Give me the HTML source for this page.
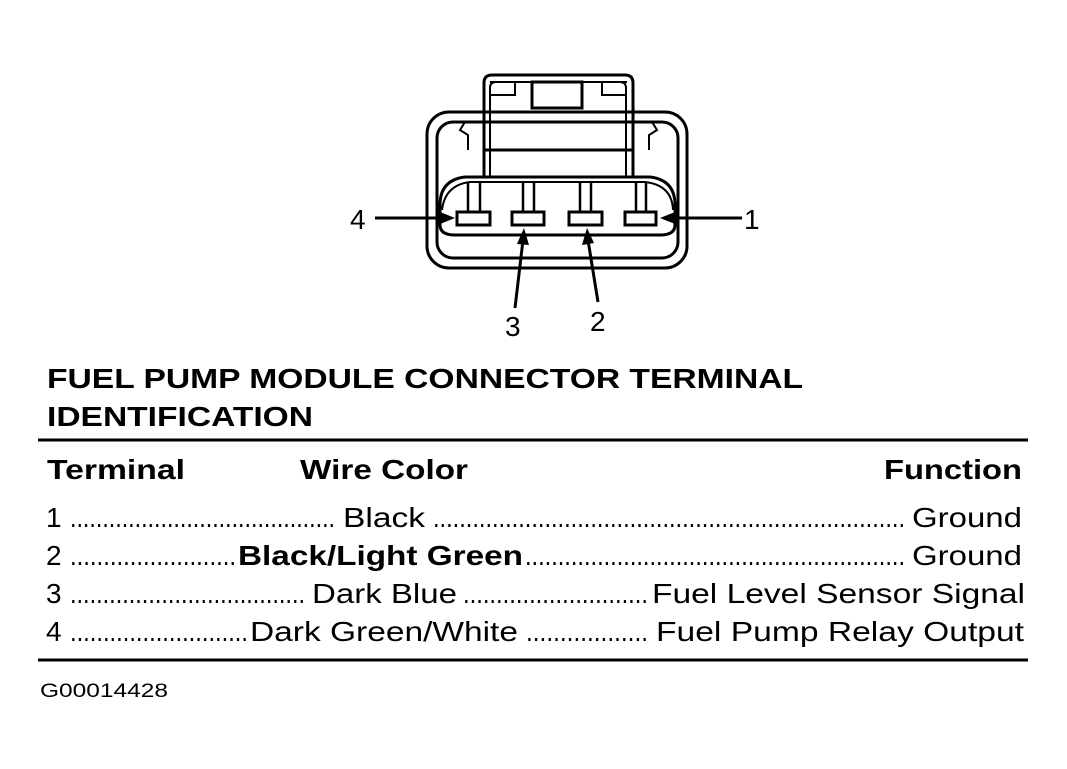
<!DOCTYPE html>
<html><head><style>html,body{margin:0;padding:0;background:#fff}svg{display:block}</style></head>
<body>
<svg width="1067" height="769" viewBox="0 0 1067 769" xmlns="http://www.w3.org/2000/svg" font-family="Liberation Sans, Arial, sans-serif">
<g fill="none" stroke="#000" stroke-width="3">
  <rect x="427" y="112" width="260" height="156" rx="22"/>
  <rect x="437" y="122" width="241" height="136" rx="16"/>
  <path d="M484 177 V83 q0-8 8-8 H625 q8 0 8 8 V177"/>
  <path d="M490 177 V88 q0-6 6-6 H620 q6 0 6 6 V177" stroke-width="2"/>
  <rect x="532" y="82" width="50" height="26"/>
  <path d="M490 82 H515 V95 H490 M627 82 H602 V95 H627" stroke-width="2"/>
  <rect x="484" y="122" width="149" height="28"/>
  <path d="M484 122 H465 l-5 8 l8 5 V150 M633 122 H652 l5 8 l-8 5 V150" stroke-width="2"/>
  <path d="M440 205 Q440 180 465 177 H650 Q675 180 675 205 V225 Q675 235 660 235 H455 Q440 235 440 225 Z"/>
  <path d="M442 210 Q445 185 470 182 H645 Q672 185 673 210" stroke-width="2"/>
  <rect x="457" y="212" width="33" height="13"/>
  <rect x="512" y="212" width="32" height="13"/>
  <rect x="569" y="212" width="33" height="13"/>
  <rect x="625" y="212" width="31" height="13"/>
  <path d="M468 183 V212 M480 183 V212 M523 183 V212 M534 183 V212 M580 183 V212 M591 183 V212 M636 183 V212 M646 183 V212" stroke-width="2.5"/>
  <line x1="375" y1="218" x2="445" y2="218"/>
  <line x1="672" y1="218" x2="742" y2="218"/>
  <line x1="515" y1="308" x2="523" y2="240"/>
  <line x1="598" y1="302" x2="588" y2="240"/>
  <line x1="38" y1="440" x2="1028" y2="440"/>
  <line x1="38" y1="660" x2="1028" y2="660"/>
</g>
<g fill="#000">
  <polygon points="455,218 440,212 440,224"/>
  <polygon points="660,218 675,212 675,224"/>
  <polygon points="524,228 517,244 529,245"/>
  <polygon points="587,228 582,245 594,243"/>
</g>
<g font-size="28">
  <text x="350" y="229">4</text>
  <text x="744" y="229">1</text>
  <text x="505" y="336">3</text>
  <text x="590" y="331">2</text>
</g>
<g font-weight="bold" font-size="28">
  <text x="47" y="388" textLength="756" lengthAdjust="spacingAndGlyphs">FUEL PUMP MODULE CONNECTOR TERMINAL</text>
  <text x="47" y="426" textLength="266" lengthAdjust="spacingAndGlyphs">IDENTIFICATION</text>
  <text x="47" y="479" textLength="138" lengthAdjust="spacingAndGlyphs">Terminal</text>
  <text x="300" y="479" textLength="168" lengthAdjust="spacingAndGlyphs">Wire Color</text>
  <text x="884" y="479" textLength="138" lengthAdjust="spacingAndGlyphs">Function</text>
</g>
<g font-size="28">
  <text x="46" y="527">1</text>
  <text x="70" y="527" textLength="265" lengthAdjust="spacingAndGlyphs">.........................................</text>
  <text x="343" y="527" textLength="82" lengthAdjust="spacingAndGlyphs">Black</text>
  <text x="433" y="527" textLength="472" lengthAdjust="spacingAndGlyphs">........................................................................</text>
  <text x="912" y="527" textLength="110" lengthAdjust="spacingAndGlyphs">Ground</text>

  <text x="46" y="565">2</text>
  <text x="70" y="565" textLength="166" lengthAdjust="spacingAndGlyphs">.........................</text>
  <text x="238" y="565" textLength="285" lengthAdjust="spacingAndGlyphs" font-weight="bold">Black/Light Green</text>
  <text x="525" y="565" textLength="380" lengthAdjust="spacingAndGlyphs">..........................................................</text>
  <text x="912" y="565" textLength="110" lengthAdjust="spacingAndGlyphs">Ground</text>

  <text x="46" y="603">3</text>
  <text x="70" y="603" textLength="235" lengthAdjust="spacingAndGlyphs">....................................</text>
  <text x="312" y="603" textLength="145" lengthAdjust="spacingAndGlyphs">Dark Blue</text>
  <text x="463" y="603" textLength="185" lengthAdjust="spacingAndGlyphs">............................</text>
  <text x="652" y="603" textLength="373" lengthAdjust="spacingAndGlyphs">Fuel Level Sensor Signal</text>

  <text x="46" y="641">4</text>
  <text x="70" y="641" textLength="178" lengthAdjust="spacingAndGlyphs">...........................</text>
  <text x="250" y="641" textLength="268" lengthAdjust="spacingAndGlyphs">Dark Green/White</text>
  <text x="526" y="641" textLength="122" lengthAdjust="spacingAndGlyphs">..................</text>
  <text x="656" y="641" textLength="368" lengthAdjust="spacingAndGlyphs">Fuel Pump Relay Output</text>
</g>
<text x="40" y="697" font-size="19" textLength="128" lengthAdjust="spacingAndGlyphs">G00014428</text>
</svg>
</body></html>
